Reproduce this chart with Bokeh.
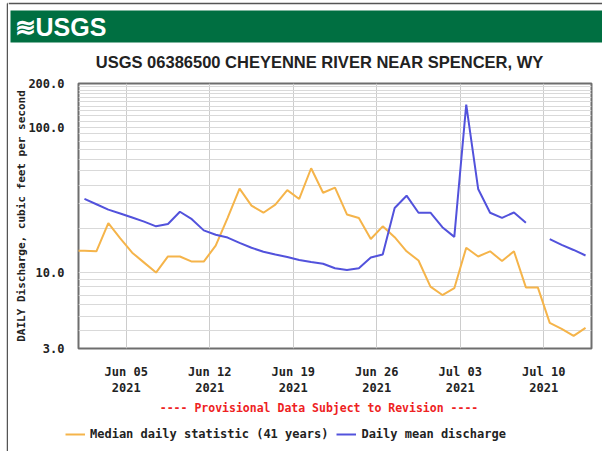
import numpy as np
import pandas as pd
from bokeh.plotting import figure
from bokeh.layouts import column, row
from bokeh.models import (Range1d, FixedTicker, NumeralTickFormatter, DatetimeTickFormatter,
                          Label, Legend, LegendItem)
from bokeh.embed import file_html
from bokeh.resources import INLINE

# ---------------- data ----------------
dates = pd.date_range("2021-05-31 12:00", "2021-07-13 12:00", freq="D")

median_cfs = [14.1, 14.1, 14.0, 21.9, 17.2, 13.7, 11.7, 10.0, 12.9, 12.9, 11.9, 11.9,
              15.3, 23.8, 37.8, 28.9, 25.8, 29.3, 36.9, 32.1, 52.2, 35.4, 38.4, 25.1,
              23.7, 17.0, 20.8, 17.5, 14.0, 12.1, 8.0, 7.0, 7.8, 14.8, 12.9, 14.0,
              12.0, 14.0, 7.9, 7.9, 4.5, 4.1, 3.66, 4.16]

mean_cfs = [np.nan, 32.1, 29.5, 27.1, 25.5, 23.9, 22.4, 20.8, 21.6, 26.2, 23.3, 19.5,
            18.2, 17.4, 16.0, 14.8, 13.9, 13.3, 12.8, 12.2, 11.8, 11.5, 10.7, 10.4,
            10.7, 12.7, 13.3, 27.8, 33.8, 25.8, 25.8, 20.5, 17.6, 143.0, 37.6, 25.8,
            23.8, 25.9, 22.0, np.nan, 17.0, 15.5, 14.3, 13.1]

x_tick_dates = ["2021-06-05", "2021-06-12", "2021-06-19", "2021-06-26", "2021-07-03", "2021-07-10"]
y_ticks = [3, 10, 100, 200]
y_grid = [4, 5, 6, 7, 8, 9, 10, 20, 30, 40, 50, 60, 70, 80, 90, 100,
          110, 120, 130, 140, 150, 160, 170, 180, 190]

logo_text = "\u224bUSGS"
title_text = "USGS 06386500 CHEYENNE RIVER NEAR SPENCER, WY"
y_label = "DAILY Discharge, cubic feet per second"
note_text = "---- Provisional Data Subject to Revision ----"
median_label = "Median daily statistic (41 years)"
mean_label = "Daily mean discharge"

MEDIAN_COLOR = "#f5b44a"
MEAN_COLOR = "#5252dc"
EDGE_COLOR = "#555555"
MONO = "DejaVu Sans Mono"
SANS = "Liberation Sans"

PAGE_W, PAGE_H = 602, 451
STRIP_W = 8
W = PAGE_W - STRIP_W
HDR_H, MAIN_H, FTR_H = 75, 323, 53


def no_align(f):
    try:
        f.frame_align = False
    except Exception:
        pass


def blank(width, height, x0, y0):
    f = figure(width=width, height=height,
               x_range=Range1d(x0, x0 + width), y_range=Range1d(y0 + height, y0),
               output_backend="svg", toolbar_location=None,
               x_axis_location=None, y_axis_location=None,
               min_border_left=0, min_border_right=0, min_border_top=0, min_border_bottom=0)
    f.grid.visible = False
    f.outline_line_color = None
    f.background_fill_color = "white"
    f.border_fill_color = "white"
    no_align(f)
    return f


# ---------------- left page edge ----------------
strip = blank(STRIP_W, PAGE_H, 0, 0)
strip.segment(x0=[7], y0=[3], x1=[7], y1=[PAGE_H], line_color=EDGE_COLOR, line_width=1.5)
strip.segment(x0=[7], y0=[3], x1=[STRIP_W], y1=[3], line_color=EDGE_COLOR, line_width=1.5)

# ---------------- header ----------------
hdr = blank(W, HDR_H, STRIP_W, 0)
hdr.segment(x0=[STRIP_W], y0=[3], x1=[PAGE_W], y1=[3], line_color=EDGE_COLOR, line_width=1.5)
hdr.quad(left=[10], right=[PAGE_W], top=[10], bottom=[42], fill_color="#006f41", line_color=None)
hdr.add_layout(Label(x=14, y=26, text=logo_text, text_color="white", text_font=SANS,
                     text_font_style="bold", text_font_size="25px",
                     text_baseline="middle", text_align="left"))
hdr.add_layout(Label(x=319, y=61, text=title_text, text_color="#222222", text_font=SANS,
                     text_font_style="bold", text_font_size="16.5px",
                     text_baseline="middle", text_align="center"))

# ---------------- main chart ----------------
ML, MR, MT, MB = 78 - STRIP_W, 11, 8, 41
p = figure(width=W, height=MAIN_H, x_axis_type="datetime", y_axis_type="log",
           x_range=Range1d(pd.Timestamp("2021-06-01"), pd.Timestamp("2021-07-14")),
           y_range=Range1d(3, 200),
           output_backend="svg", toolbar_location=None,
           min_border_left=ML, min_border_right=MR, min_border_top=MT, min_border_bottom=MB)
no_align(p)
p.background_fill_color = "white"
p.border_fill_color = "white"
p.outline_line_color = "#6e6e6e"
p.outline_line_width = 2

xt = [pd.Timestamp(d).value // 10**6 for d in x_tick_dates]
p.xaxis.ticker = FixedTicker(ticks=xt)
fmt = "%b %d\n%Y"
p.xaxis.formatter = DatetimeTickFormatter(days=fmt, months=fmt, hours=fmt, years=fmt)
p.yaxis.ticker = FixedTicker(ticks=y_ticks)
p.yaxis.formatter = NumeralTickFormatter(format="0.0")

for ax in (p.xaxis[0], p.yaxis[0]):
    ax.axis_line_color = None
    ax.major_tick_line_color = None
    ax.minor_tick_line_color = None
    ax.major_label_text_font = MONO
    ax.major_label_text_font_style = "bold"
    ax.major_label_text_font_size = "12px"
    ax.major_label_text_color = "#222222"
    ax.major_label_standoff = 8
p.xaxis.major_label_standoff = 10

p.yaxis.axis_label = y_label
p.yaxis.axis_label_text_font = MONO
p.yaxis.axis_label_text_font_style = "bold"
p.yaxis.axis_label_text_font_size = "11px"
p.yaxis.axis_label_text_color = "#222222"
p.yaxis.axis_label_standoff = -3

p.xgrid.ticker = FixedTicker(ticks=xt)
p.xgrid.grid_line_color = "#cccccc"
p.ygrid.ticker = FixedTicker(ticks=y_grid)
p.ygrid.grid_line_color = "#d9d9d9"

p.line(dates, median_cfs, line_color=MEDIAN_COLOR, line_width=2)
p.line(dates, mean_cfs, line_color=MEAN_COLOR, line_width=2)

# ---------------- footer ----------------
ftr = blank(W, FTR_H, STRIP_W, HDR_H + MAIN_H)
ftr.add_layout(Label(x=318.5, y=407, text=note_text, text_color="#ee2222", text_font=MONO,
                     text_font_style="bold", text_font_size="11.5px",
                     text_baseline="middle", text_align="center"))
k_med = ftr.line(x=[np.nan], y=[np.nan], line_color=MEDIAN_COLOR, line_width=2)
k_mean = ftr.line(x=[np.nan], y=[np.nan], line_color=MEAN_COLOR, line_width=2)
legend = Legend(items=[LegendItem(label=median_label, renderers=[k_med]),
                       LegendItem(label=mean_label, renderers=[k_mean])],
                orientation="horizontal", location=(65 - STRIP_W, 10))
legend.border_line_color = None
legend.background_fill_alpha = 0
legend.padding = 0
legend.margin = 0
legend.spacing = 8
legend.glyph_width = 20
legend.glyph_height = 14
legend.label_height = 14
legend.label_standoff = 5
legend.label_text_font = MONO
legend.label_text_font_style = "bold"
legend.label_text_font_size = "12px"
legend.label_text_color = "#222222"
ftr.add_layout(legend)

layout = row(strip, column(hdr, p, ftr, spacing=0), spacing=0)
open("out.html", "w").write(file_html(layout, INLINE))
